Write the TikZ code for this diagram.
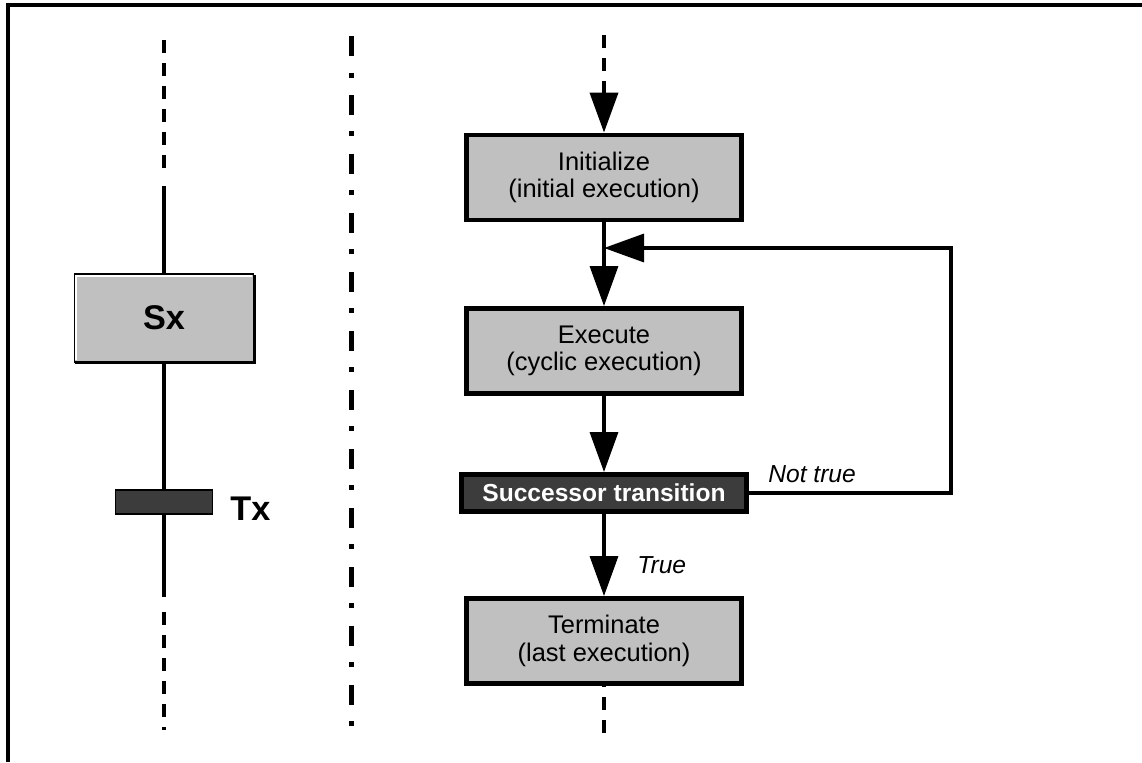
\documentclass[tikz,border=0pt]{standalone}
\usepackage{fontspec}
\setmainfont{Liberation Sans}
\usetikzlibrary{arrows.meta,positioning}
\definecolor{stepgray}{RGB}{192,192,192}
\definecolor{darkbar}{RGB}{60,60,60}

\begin{document}
\begin{tikzpicture}[x=0.02cm,y=-0.02cm,>={Triangle[length=0.8cm,width=0.56cm]},
	phase/.style={draw,line width=2.8pt,fill=stepgray,inner sep=0pt,minimum width=5.5cm,minimum height=1.7cm,align=center,font=\fontsize{14.5}{15.5}\selectfont},
	flow/.style={line width=1.9pt},
	seqdash/.style={line width=2.2pt,dash pattern=on 0.26cm off 0.2cm},
	cond/.style={inner sep=0pt,font=\itshape\fontsize{14}{16}\selectfont}]
	\useasboundingbox (0,0) rectangle (1142,762);
	% outer frame, only top and left edges
	\draw[line width=0.08cm] (8,762) -- (8,5) -- (1142,5);

	% step with its transition
	\node[draw,line width=1.1pt,fill=stepgray,inner sep=0pt,minimum width=3.58cm,minimum height=1.76cm,font=\bfseries\fontsize{19.5}{21}\selectfont] (sx) at (164,318) {Sx};
	\draw[white,line width=1.2pt] ([xshift=1.6pt,yshift=1.6pt]sx.south west) -- ([xshift=1.6pt,yshift=-1.6pt]sx.north west) -- ([xshift=-1.6pt,yshift=-1.6pt]sx.north east);
	\draw[line width=1.4pt] ([xshift=1pt]sx.south west) -- (sx.south east) -- ([yshift=-1pt]sx.north east);
	\node[draw,line width=0.8pt,fill=darkbar,inner sep=0pt,minimum width=1.94cm,minimum height=0.48cm] (tx) at (164,502) {};
	\node[anchor=base west,inner sep=0pt,font=\bfseries\fontsize{19.5}{21}\selectfont] (txlabel) at (230,520) {Tx};

	\coordinate (sxin) at (164,40);
	\coordinate (sxsolid) at (164,186);
	\coordinate (txout) at (164,597);
	\coordinate (txdash) at (164,612);
	\coordinate (sxend) at (164,730);
	\draw[seqdash] (sxin) -- (164,174);
	\draw[flow] (sxsolid) -- (sx.north);
	\draw[flow] (sx.south) -- (tx.north);
	\draw[flow] (tx.south) -- (txout);
	\draw[seqdash] (txdash) -- (sxend);

	% separator
	\draw[line width=0.1cm,dash pattern=on 0.4cm off 0.33cm on 0.1cm off 0.35cm] (351,36) -- (351,742);

	% step phases
	\node[phase] (init) at (604,177.5) {Initialize\\(initial execution)};
	\node[phase] (exec) at (604,351) {Execute\\(cyclic execution)};
	\node[draw,line width=2.8pt,fill=darkbar,text=white,inner sep=0pt,minimum width=5.7cm,minimum height=0.74cm,font=\bfseries\fontsize{14}{16}\selectfont] (succ) at (604,493) {Successor transition};
	\node[phase] (term) at (604,641) {Terminate\\(last execution)};

	\coordinate (stepin) at (604,35);
	\coordinate (stepout) at (604,740);
	\coordinate (back) at (604,248);
	\coordinate (loopcorner) at (951,248);

	\draw[seqdash,->] (stepin) -- (init.north);
	\draw[flow,->] (init) -- (exec);
	\draw[flow,->] (exec) -- (succ);
	\draw[flow,->] (succ) -- (term);
	\draw[flow,->] (succ.east) -| (loopcorner) -- (back);
	\draw[seqdash,dash phase=0.24cm] (term.south) -- (stepout);

	\node[cond,anchor=base west] (nottrue) at (768,482) {Not true};
	\node[cond,anchor=base west] (truelbl) at (637,573) {True};
\end{tikzpicture}
\end{document}
